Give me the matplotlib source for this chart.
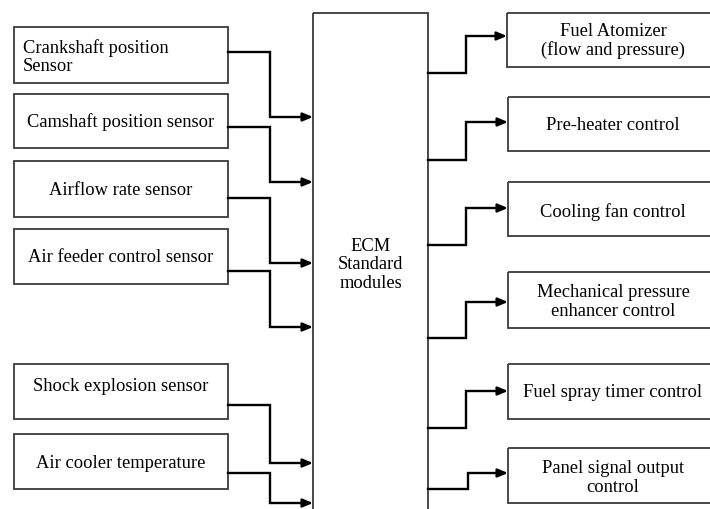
import matplotlib
matplotlib.use("Agg")
import matplotlib.pyplot as plt
from matplotlib.patches import Rectangle

W, H = 710, 510

# left side sensors: label, box top, box bottom, wire out y, arrow in y
sensor_labels = ["Crankshaft position\nSensor", "Camshaft position sensor",
                 "Airflow rate sensor", "Air feeder control sensor",
                 "Shock explosion sensor", "Air cooler temperature"]
sensor_top = [28, 95, 162, 230, 365, 435]
sensor_bot = [84, 149, 218, 285, 420, 490]
sensor_out_y = [53, 128, 199, 272, 406, 474]
sensor_in_y = [118, 183, 264, 328, 464, 504]
sensor_text_y = [57, 122, 191, 258, 387, 464]

# right side actuators
act_labels = ["Fuel Atomizer\n(flow and pressure)", "Pre-heater control",
              "Cooling fan control", "Mechanical pressure\nenhancer control",
              "Fuel spray timer control", "Panel signal output\ncontrol"]
act_top = [14, 98, 183, 273, 365, 449]
act_bot = [68, 152, 237, 329, 420, 504]
act_out_y = [74, 161, 246, 339, 429, 490]
act_in_y = [37, 123, 209, 303, 392, 474]
act_text_y = [41, 125, 212, 302, 393, 478]

ecm_label = "ECM\nStandard\nmodules"

LX0, LX1, LBEND = 14, 228, 270
EX0, EX1, ETOP = 313, 428, 14
RX0, RBEND = 507, 466
EDGE = "#3a3a3a"
FS = 13.3
LS = 1.1

plt.rcParams["font.family"] = ["Liberation Serif", "DejaVu Serif"]

fig = plt.figure(figsize=(W / 100, H / 100), dpi=100)
ax = fig.add_axes([0, 0, 1, 1])
ax.set_xlim(0, W)
ax.set_ylim(H, 0)
ax.axis("off")


def box(x0, y0, x1, y1):
    ax.add_patch(Rectangle((x0, y0), x1 - x0, y1 - y0, fill=False,
                           edgecolor=EDGE, linewidth=1.3))


def wire(x0, y0, xb, y1, x1):
    ax.plot([x0, xb, xb, x1 - 6], [y0, y0, y1, y1], color="black",
            linewidth=1.7, solid_joinstyle="miter")
    ax.annotate("", xy=(x1, y1), xytext=(x1 - 9, y1),
                arrowprops=dict(arrowstyle="-|>,head_length=0.6,head_width=0.25",
                                color="black", lw=1.7, shrinkA=0, shrinkB=0))


# ECM block (runs past the bottom edge)
box(EX0, ETOP, EX1, H + 20)
ax.text((EX0 + EX1) / 2, 265, ecm_label, ha="center", va="center",
        fontsize=FS, linespacing=LS)

for i, lab in enumerate(sensor_labels):
    box(LX0, sensor_top[i], LX1, sensor_bot[i])
    if i == 0:
        ax.text(23, sensor_text_y[i], lab, ha="left", va="center",
                fontsize=FS, linespacing=LS)
    else:
        ax.text((LX0 + LX1) / 2, sensor_text_y[i], lab, ha="center",
                va="center", fontsize=FS)
    wire(LX1, sensor_out_y[i], LBEND, sensor_in_y[i], EX0)

for i, lab in enumerate(act_labels):
    box(RX0 + (1 if i else 0), act_top[i], W + 20, act_bot[i])
    ax.text(613, act_text_y[i], lab, ha="center", va="center",
            fontsize=FS, linespacing=LS)
    bend = 468 if i == 5 else RBEND
    wire(EX1, act_out_y[i], bend, act_in_y[i], RX0 + (1 if i else 0))

fig.savefig("out.png", dpi=100)
